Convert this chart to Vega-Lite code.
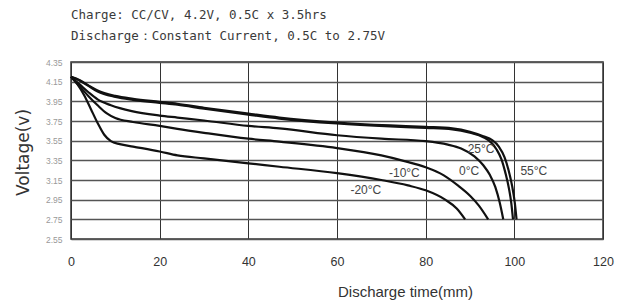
{
  "$schema": "https://vega.github.io/schema/vega-lite/v6.json",
  "width": 532,
  "height": 177,
  "autosize": "none",
  "padding": {"left": 71, "top": 62, "right": 23, "bottom": 62},
  "background": "white",
  "title": {
    "text": ["Charge: CC/CV, 4.2V, 0.5C x 3.5hrs", "Discharge：Constant Current, 0.5C to 2.75V"],
    "anchor": "start",
    "frame": "group",
    "offset": 16,
    "lineHeight": 21,
    "fontSize": 12.5,
    "fontWeight": "normal",
    "font": "DejaVu Sans Mono",
    "color": "#3a3a3a"
  },
  "datasets": {
    "curves": [
      {"series": "55°C", "t": 0, "v": 4.2}, {"series": "55°C", "t": 2, "v": 4.165}, {"series": "55°C", "t": 4, "v": 4.11}, {"series": "55°C", "t": 6, "v": 4.06}, {"series": "55°C", "t": 10, "v": 4.005}, {"series": "55°C", "t": 14, "v": 3.975}, {"series": "55°C", "t": 20, "v": 3.945}, {"series": "55°C", "t": 24, "v": 3.925}, {"series": "55°C", "t": 30, "v": 3.885}, {"series": "55°C", "t": 40, "v": 3.825}, {"series": "55°C", "t": 47, "v": 3.785}, {"series": "55°C", "t": 60, "v": 3.735}, {"series": "55°C", "t": 72, "v": 3.705}, {"series": "55°C", "t": 80, "v": 3.69}, {"series": "55°C", "t": 86, "v": 3.675}, {"series": "55°C", "t": 90, "v": 3.64}, {"series": "55°C", "t": 93, "v": 3.595}, {"series": "55°C", "t": 95, "v": 3.555}, {"series": "55°C", "t": 96.5, "v": 3.49}, {"series": "55°C", "t": 97.8, "v": 3.38}, {"series": "55°C", "t": 98.7, "v": 3.25}, {"series": "55°C", "t": 99.5, "v": 3.09}, {"series": "55°C", "t": 100.1, "v": 2.92}, {"series": "55°C", "t": 100.5, "v": 2.75},
      {"series": "25°C", "t": 0, "v": 4.2}, {"series": "25°C", "t": 2, "v": 4.16}, {"series": "25°C", "t": 4, "v": 4.105}, {"series": "25°C", "t": 6, "v": 4.05}, {"series": "25°C", "t": 10, "v": 3.995}, {"series": "25°C", "t": 14, "v": 3.965}, {"series": "25°C", "t": 20, "v": 3.935}, {"series": "25°C", "t": 24, "v": 3.915}, {"series": "25°C", "t": 30, "v": 3.875}, {"series": "25°C", "t": 40, "v": 3.815}, {"series": "25°C", "t": 47, "v": 3.775}, {"series": "25°C", "t": 60, "v": 3.725}, {"series": "25°C", "t": 72, "v": 3.695}, {"series": "25°C", "t": 80, "v": 3.68}, {"series": "25°C", "t": 86, "v": 3.665}, {"series": "25°C", "t": 90, "v": 3.63}, {"series": "25°C", "t": 93, "v": 3.585}, {"series": "25°C", "t": 94.8, "v": 3.53}, {"series": "25°C", "t": 96, "v": 3.46}, {"series": "25°C", "t": 97.1, "v": 3.36}, {"series": "25°C", "t": 98, "v": 3.22}, {"series": "25°C", "t": 98.8, "v": 3.06}, {"series": "25°C", "t": 99.3, "v": 2.92}, {"series": "25°C", "t": 99.7, "v": 2.75},
      {"series": "0°C", "t": 0, "v": 4.2}, {"series": "0°C", "t": 2, "v": 4.12}, {"series": "0°C", "t": 4, "v": 4.04}, {"series": "0°C", "t": 6, "v": 3.97}, {"series": "0°C", "t": 9, "v": 3.91}, {"series": "0°C", "t": 13.7, "v": 3.85}, {"series": "0°C", "t": 20, "v": 3.805}, {"series": "0°C", "t": 24, "v": 3.785}, {"series": "0°C", "t": 30, "v": 3.755}, {"series": "0°C", "t": 40, "v": 3.70}, {"series": "0°C", "t": 47, "v": 3.675}, {"series": "0°C", "t": 60, "v": 3.605}, {"series": "0°C", "t": 70, "v": 3.57}, {"series": "0°C", "t": 80, "v": 3.545}, {"series": "0°C", "t": 85, "v": 3.51}, {"series": "0°C", "t": 88, "v": 3.47}, {"series": "0°C", "t": 91, "v": 3.39}, {"series": "0°C", "t": 93, "v": 3.30}, {"series": "0°C", "t": 94.5, "v": 3.20}, {"series": "0°C", "t": 95.7, "v": 3.08}, {"series": "0°C", "t": 96.7, "v": 2.92}, {"series": "0°C", "t": 97.5, "v": 2.75},
      {"series": "-10°C", "t": 0, "v": 4.2}, {"series": "-10°C", "t": 2, "v": 4.10}, {"series": "-10°C", "t": 4, "v": 4.00}, {"series": "-10°C", "t": 6, "v": 3.91}, {"series": "-10°C", "t": 8, "v": 3.83}, {"series": "-10°C", "t": 10, "v": 3.78}, {"series": "-10°C", "t": 14, "v": 3.74}, {"series": "-10°C", "t": 20, "v": 3.70}, {"series": "-10°C", "t": 24, "v": 3.67}, {"series": "-10°C", "t": 30, "v": 3.63}, {"series": "-10°C", "t": 40, "v": 3.57}, {"series": "-10°C", "t": 47, "v": 3.54}, {"series": "-10°C", "t": 60, "v": 3.475}, {"series": "-10°C", "t": 70, "v": 3.40}, {"series": "-10°C", "t": 75, "v": 3.345}, {"series": "-10°C", "t": 80, "v": 3.28}, {"series": "-10°C", "t": 84, "v": 3.20}, {"series": "-10°C", "t": 87.4, "v": 3.09}, {"series": "-10°C", "t": 90, "v": 2.99}, {"series": "-10°C", "t": 92, "v": 2.89}, {"series": "-10°C", "t": 94.1, "v": 2.75},
      {"series": "-20°C", "t": 0, "v": 4.2}, {"series": "-20°C", "t": 1.5, "v": 4.12}, {"series": "-20°C", "t": 3, "v": 4.01}, {"series": "-20°C", "t": 4.5, "v": 3.87}, {"series": "-20°C", "t": 6, "v": 3.73}, {"series": "-20°C", "t": 7.5, "v": 3.61}, {"series": "-20°C", "t": 9, "v": 3.545}, {"series": "-20°C", "t": 11, "v": 3.515}, {"series": "-20°C", "t": 14, "v": 3.49}, {"series": "-20°C", "t": 20, "v": 3.44}, {"series": "-20°C", "t": 24, "v": 3.40}, {"series": "-20°C", "t": 30, "v": 3.37}, {"series": "-20°C", "t": 40, "v": 3.32}, {"series": "-20°C", "t": 47, "v": 3.285}, {"series": "-20°C", "t": 60, "v": 3.22}, {"series": "-20°C", "t": 70, "v": 3.15}, {"series": "-20°C", "t": 76, "v": 3.095}, {"series": "-20°C", "t": 80, "v": 3.045}, {"series": "-20°C", "t": 84.4, "v": 2.95}, {"series": "-20°C", "t": 87, "v": 2.86}, {"series": "-20°C", "t": 88.9, "v": 2.75}
    ],
    "labels": [
      {"label": "55°C", "t": 104.4, "v": 3.24},
      {"label": "25°C", "t": 92.5, "v": 3.47},
      {"label": "0°C", "t": 89.8, "v": 3.24},
      {"label": "-10°C", "t": 75.2, "v": 3.22},
      {"label": "-20°C", "t": 66.5, "v": 3.05}
    ]
  },
  "config": {
    "view": {"stroke": "#333", "strokeWidth": 1.5},
    "font": "Liberation Sans"
  },
  "layer": [
    {
      "data": {"name": "curves"},
      "mark": {"type": "line", "interpolate": "monotone", "color": "#111", "strokeWidth": 2.2},
      "encoding": {
        "x": {
          "field": "t", "type": "quantitative",
          "scale": {"domain": [0, 120], "nice": false},
          "axis": {
            "values": [0, 20, 40, 60, 80, 100, 120],
            "tickCount": 7,
            "grid": true, "gridColor": "#333", "gridWidth": 1,
            "ticks": false, "domain": false,
            "labelFontSize": 12.5, "labelColor": "#333", "labelPadding": 16,
            "labelOverlap": false, "labelFlush": false,
            "title": "Discharge time(mm)", "titleFontSize": 15, "titleFontWeight": "normal", "titleColor": "#333",
            "titleX": 334, "titleY": 52, "titleBaseline": "middle", "titleAlign": "center"
          }
        },
        "y": {
          "field": "v", "type": "quantitative",
          "scale": {"domain": [2.55, 4.35], "nice": false, "zero": false},
          "axis": {
            "values": [2.55, 2.75, 2.95, 3.15, 3.35, 3.55, 3.75, 3.95, 4.15, 4.35],
            "tickCount": 10,
            "format": ".2f",
            "grid": true, "gridColor": "#555", "gridWidth": 1.6,
            "ticks": false, "domain": false,
            "labelFontSize": 8.5, "labelColor": "#999", "labelPadding": 9,
            "labelOverlap": false, "labelFlush": false,
            "title": "Voltage(v)", "titleFont": "DejaVu Sans", "titleFontSize": 17, "titleFontWeight": "normal", "titleColor": "#333",
            "titleX": -48, "titleY": 90, "titleAngle": -90, "titleBaseline": "middle", "titleAlign": "center"
          }
        },
        "detail": {"field": "series"}
      }
    },
    {
      "data": {"name": "labels"},
      "mark": {"type": "text", "fontSize": 12, "color": "#444", "align": "center", "baseline": "middle"},
      "encoding": {
        "x": {"field": "t", "type": "quantitative"},
        "y": {"field": "v", "type": "quantitative"},
        "text": {"field": "label"}
      }
    }
  ]
}
